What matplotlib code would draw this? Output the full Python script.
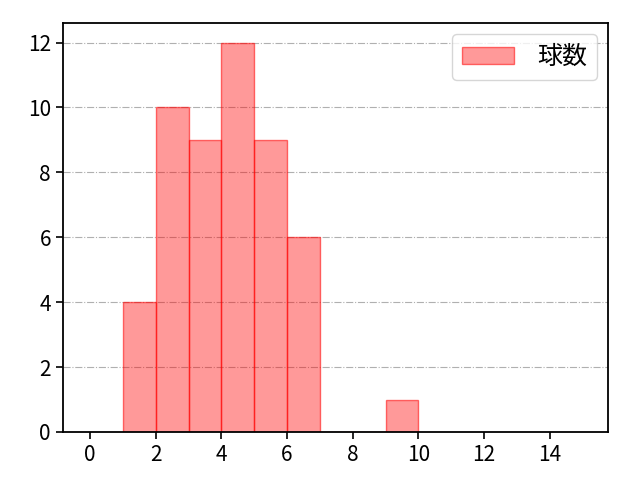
import matplotlib
matplotlib.use("Agg")
import matplotlib.pyplot as plt

plt.rcParams['font.family'] = ['Noto Sans CJK JP', 'DejaVu Sans']

# 球数のヒストグラム (階級の左端と度数)
bin_edges = [1, 2, 3, 4, 5, 6, 7, 8, 9, 10]
counts = [4, 10, 9, 12, 9, 6, 0, 0, 1]
label = "球数"

fig = plt.figure(figsize=(6.4, 4.8), dpi=100)
ax = fig.add_axes([0.098, 0.1, 0.852, 0.852])

ax.hist(bin_edges[:-1], bins=bin_edges, weights=counts,
        facecolor=(1, 0, 0, 0.4), edgecolor=(1, 0, 0, 0.55), linewidth=1,
        label=label)

ax.set_xlim(-0.83, 15.77)
ax.set_ylim(0, 12.6)
ax.set_xticks(range(0, 16, 2))
ax.set_yticks(range(0, 13, 2))
ax.tick_params(labelsize=15, length=5, width=1.2)
ax.grid(axis='y', color='#b0b0b0', linestyle='-.', linewidth=0.8)
ax.set_axisbelow(True)
for s in ax.spines.values():
    s.set_linewidth(1.3)

ax.legend(loc='upper right', fontsize=18, handlelength=2.1, handletextpad=0.9,
          borderaxespad=0.45)

plt.savefig("out.png")
